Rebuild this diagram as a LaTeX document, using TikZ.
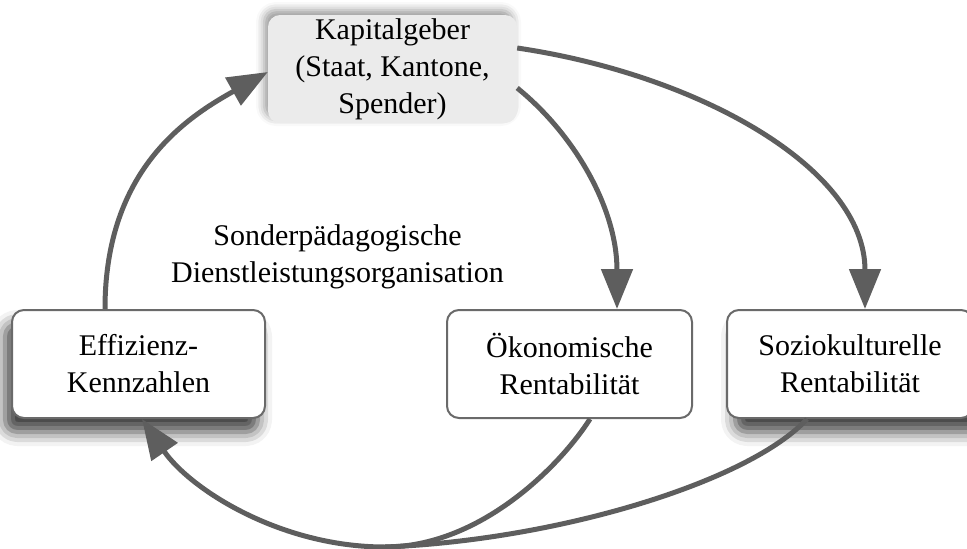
\documentclass[tikz,border=0pt]{standalone}
\usepackage{fontspec}
\setmainfont{Liberation Serif}
\usetikzlibrary{arrows.meta,shadows.blur}
\definecolor{flowgray}{HTML}{5E5E5E}
\definecolor{framegray}{HTML}{6A6A6A}
\definecolor{sourcefill}{HTML}{EBEBEB}
\begin{document}
\begin{tikzpicture}[x=1pt,y=-1pt,
  txt/.style={font=\fontsize{30}{37}\selectfont, align=center, text=black},
  box/.style={txt, rectangle, rounded corners=12pt, draw=framegray, line width=2pt,
    fill=white, minimum height=108pt, inner sep=0pt},
  source/.style={txt, rectangle, rounded corners=12pt, fill=sourcefill,
    minimum width=249pt, minimum height=108pt, inner sep=0pt},
  flow/.style={draw=flowgray, line width=5pt,
    -{Triangle[length=40pt,width=31pt]}, fill=none},
  flowpart/.style={draw=flowgray, line width=5pt}
]
\useasboundingbox (0,0) rectangle (967,549);

% boxes
\node[source, blur shadow={shadow xshift=-4pt, shadow yshift=5pt,
  shadow blur radius=8pt, shadow opacity=40}] (kap) at (392.5,69)
  {Kapitalgeber\\(Staat, Kantone,\\Spender)};
\node[box, minimum width=253pt, blur shadow={shadow xshift=-7pt, shadow yshift=-14pt,
  shadow blur radius=14pt, shadow opacity=75}] (eff) at (138.5,364)
  {Effizienz-\\Kennzahlen};
\node[box, minimum width=245pt] (oek) at (569.5,364)
  {Ökonomische\\Rentabilität};
\node[box, minimum width=246pt, blur shadow={shadow xshift=8pt, shadow yshift=-14pt,
  shadow blur radius=14pt, shadow opacity=75}] (soz) at (850,364)
  {Soziokulturelle\\Rentabilität};

\node[txt] (org) at (337.5,257) {Sonderpädagogische\\Dienstleistungsorganisation};

% flows from the source
\draw[flow] ([xshift=-33.5pt]eff.north) .. controls +(0,-140) and +(-80,45) .. ([yshift=-3pt]kap.west);
\draw[flow] ([yshift=-19pt]kap.east) .. controls +(58,47) and +(0,-100) .. ([xshift=47.5pt]oek.north);
\draw[flow] ([yshift=21pt]kap.east) .. controls +(183,27) and +(0,-140) .. ([xshift=15pt]soz.north);

% flows back to the efficiency figures
\coordinate (low) at (385,547);
\draw[flowpart] ([xshift=20.5pt]oek.south) .. controls +(-30,47) and +(95,0) .. (low);
\draw[flowpart] ([xshift=-43pt]soz.south) .. controls +(-57,62) and +(175,-7) .. (low);
\draw[flow] (low) .. controls +(-105,0) and +(48,70) .. ([xshift=3.5pt]eff.south);
\end{tikzpicture}
\end{document}
